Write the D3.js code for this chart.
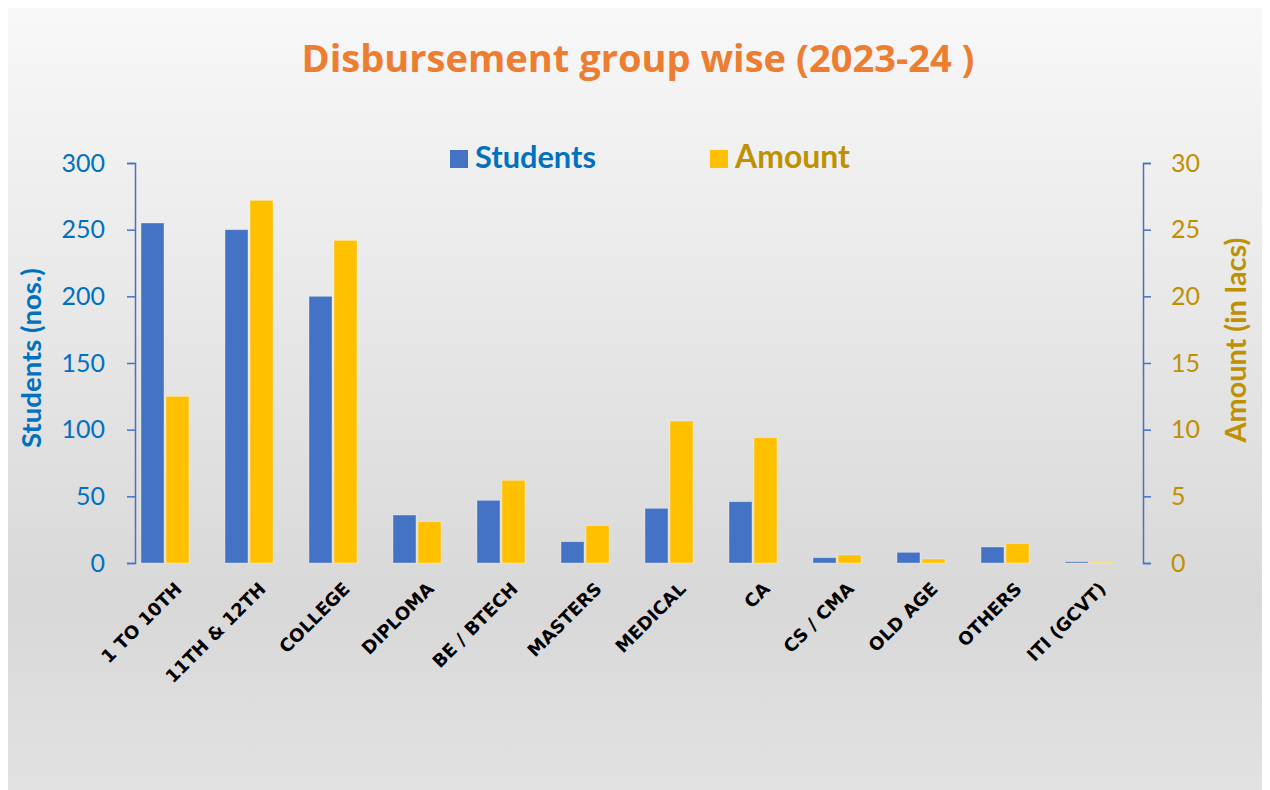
<!DOCTYPE html>
<html>
<head>
<meta charset="utf-8">
<script src="https://cdn.jsdelivr.net/npm/d3@7"></script>
<style>
  body { margin: 0; background: #ffffff; }
  svg { display: block; }
</style>
</head>
<body>
<div id="chart"></div>
<script>
const width = 1270;
const height = 790;

// chart data
const categories = ["1 TO 10TH", "11TH & 12TH", "COLLEGE", "DIPLOMA", "BE / BTECH", "MASTERS",
    "MEDICAL", "CA", "CS / CMA", "OLD AGE", "OTHERS", "ITI (GCVT)"];
const students = [255, 250, 200, 36, 47, 16, 41, 46, 4, 8, 12, 1];
const amount = [12.5, 27.2, 24.2, 3.1, 6.2, 2.8, 10.65, 9.4, 0.6, 0.3, 1.45, 0.05];
const studentTicks = [0, 50, 100, 150, 200, 250, 300];
const amountTicks = [0, 5, 10, 15, 20, 25, 30];
const seriesNames = ["Students", "Amount"];

const blue = "#4472C4";
const gold = "#FFC000";
const blueText = "#0070C0";
const goldText = "#BF9000";

const margin = {top: 163, right: 127, bottom: 227, left: 135};
const plotW = width - margin.left - margin.right;
const plotH = height - margin.top - margin.bottom;

const svg = d3.select("#chart")
    .append("svg")
    .attr("width", width)
    .attr("height", height);

// background gradient
const grad = svg.append("defs").append("linearGradient")
    .attr("id", "bg")
    .attr("x1", 0).attr("y1", 0).attr("x2", 0).attr("y2", 1);
grad.append("stop").attr("offset", "0%").attr("stop-color", "#f8f8f8");
grad.append("stop").attr("offset", "75%").attr("stop-color", "#d8d8d8");
grad.append("stop").attr("offset", "100%").attr("stop-color", "#e2e2e2");

svg.append("rect")
    .attr("x", 8).attr("y", 8)
    .attr("width", 1254).attr("height", 790)
    .attr("fill", "url(#bg)");

// fit a text element to a target width by scaling its font size
function fitText(sel, target) {
    const node = sel.node();
    const fs = parseFloat(sel.attr("font-size"));
    const w = node.getComputedTextLength();
    if (w > 0) sel.attr("font-size", fs * target / w);
    return sel;
}

// title
fitText(svg.append("text")
    .attr("x", 638)
    .attr("y", 72)
    .attr("text-anchor", "middle")
    .attr("font-family", "'Open Sans', sans-serif")
    .attr("font-weight", "bold")
    .attr("font-size", 36)
    .attr("fill", "#ED7D31")
    .text("Disbursement group wise (2023-24 )"), 673);

const g = svg.append("g")
    .attr("transform", `translate(${margin.left},${margin.top})`);

// scales
const x = d3.scaleBand()
    .domain(categories)
    .range([0, plotW]);

const xSub = d3.scaleBand()
    .domain(seriesNames)
    .range([6, 54])
    .paddingInner(0.08);

const yLeft = d3.scaleLinear()
    .domain([0, 300])
    .range([plotH, 0]);

const yRight = d3.scaleLinear()
    .domain([0, 30])
    .range([plotH, 0]);

// bars
const rows = categories.map((c, i) => ({cat: c, students: students[i], amount: amount[i]}));

g.append("g").selectAll("rect")
    .data(rows)
    .enter().append("rect")
    .attr("x", d => x(d.cat) + xSub("Students"))
    .attr("y", d => yLeft(d.students))
    .attr("width", xSub.bandwidth())
    .attr("height", d => plotH - yLeft(d.students))
    .attr("fill", blue)
    .attr("stroke", "rgba(255,255,255,0.35)")
    .attr("stroke-width", 1);

g.append("g").selectAll("rect")
    .data(rows)
    .enter().append("rect")
    .attr("x", d => x(d.cat) + xSub("Amount"))
    .attr("y", d => yRight(d.amount))
    .attr("width", xSub.bandwidth())
    .attr("height", d => plotH - yRight(d.amount))
    .attr("fill", gold)
    .attr("stroke", "rgba(255,255,255,0.35)")
    .attr("stroke-width", 1);

// left axis
const leftAxis = g.append("g")
    .call(d3.axisLeft(yLeft).tickValues(studentTicks).tickSize(8).tickPadding(22));
leftAxis.select(".domain").attr("stroke", blue).attr("stroke-width", 1.5);
leftAxis.selectAll(".tick line").attr("stroke", blue).attr("stroke-width", 1.5);
leftAxis.selectAll(".tick text")
    .attr("fill", blueText)
    .attr("font-family", "Lato, sans-serif")
    .attr("font-size", 25);

// right axis
const rightAxis = g.append("g")
    .attr("transform", `translate(${plotW},0)`)
    .call(d3.axisRight(yRight).tickValues(amountTicks).tickSize(8).tickPadding(20));
rightAxis.select(".domain").attr("stroke", blue).attr("stroke-width", 1.5);
rightAxis.selectAll(".tick line").attr("stroke", blue).attr("stroke-width", 1.5);
rightAxis.selectAll(".tick text")
    .attr("fill", goldText)
    .attr("font-family", "Lato, sans-serif")
    .attr("font-size", 25);

// category labels
g.append("g").selectAll("text")
    .data(categories)
    .enter().append("text")
    .attr("transform", d => `translate(${x(d) + x.bandwidth() / 2 + 6},${plotH + 27}) rotate(-45)`)
    .attr("text-anchor", "end")
    .attr("font-family", "'DejaVu Sans', sans-serif")
    .attr("font-weight", "bold")
    .attr("font-size", 18)
    .attr("fill", "#000000")
    .text(d => d);

// axis titles
fitText(svg.append("text")
    .attr("transform", "translate(41,358) rotate(-90)")
    .attr("text-anchor", "middle")
    .attr("font-family", "Lato, sans-serif")
    .attr("font-weight", "bold")
    .attr("font-size", 22)
    .attr("fill", blueText)
    .text("Students (nos.)"), 180);

fitText(svg.append("text")
    .attr("transform", "translate(1246,340) rotate(-90)")
    .attr("text-anchor", "middle")
    .attr("font-family", "Lato, sans-serif")
    .attr("font-weight", "bold")
    .attr("font-size", 22)
    .attr("fill", goldText)
    .text("Amount (in lacs)"), 205);

// legend
const legendItems = [
    {name: seriesNames[0], color: blue, text: blueText, x: 450, w: 121},
    {name: seriesNames[1], color: gold, text: goldText, x: 710, w: 115}
];
const legend = svg.append("g");
legendItems.forEach(item => {
    legend.append("rect")
        .attr("x", item.x).attr("y", 150)
        .attr("width", 18).attr("height", 18)
        .attr("fill", item.color);
    fitText(legend.append("text")
        .attr("x", item.x + 25).attr("y", 168)
        .attr("font-family", "Lato, sans-serif")
        .attr("font-weight", "bold")
        .attr("font-size", 26)
        .attr("fill", item.text)
        .text(item.name), item.w);
});
</script>
</body>
</html>
